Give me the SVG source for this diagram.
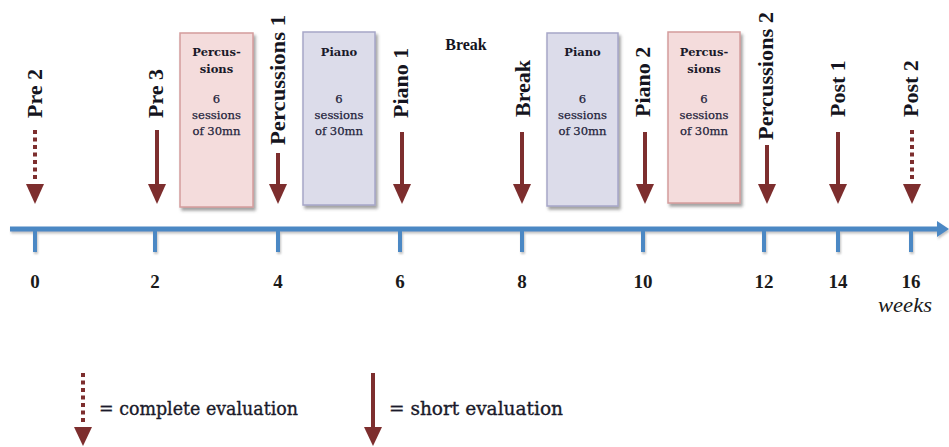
<svg xmlns="http://www.w3.org/2000/svg" width="949" height="447" viewBox="0 0 949 447">
<defs>
<filter id="sh" x="-20%" y="-20%" width="140%" height="140%">
<feDropShadow dx="2" dy="3" stdDeviation="1.6" flood-color="#555" flood-opacity="0.55"/>
</filter>
<filter id="sh2" x="-5%" y="-50%" width="110%" height="200%">
<feDropShadow dx="1" dy="2" stdDeviation="1.2" flood-color="#777" flood-opacity="0.45"/>
</filter>
</defs>
<style>
.lbl{font-family:"Liberation Serif",serif;font-weight:bold;font-size:22px;fill:#141420}
.num{font-family:"Liberation Serif",serif;font-weight:bold;font-size:19px;fill:#1a1a1a;text-anchor:middle}
.bt{font-family:"DejaVu Serif",serif;font-weight:bold;font-size:11.5px;fill:#1a1a2a;text-anchor:middle}
.bs{font-family:"DejaVu Serif",serif;font-size:11.6px;fill:#22223a;text-anchor:middle;stroke:#22223a;stroke-width:0.25}
.leg{font-family:"DejaVu Serif",serif;font-size:18px;fill:#1a1a2a;stroke:#1a1a2a;stroke-width:0.35}
.solid{stroke:#7d2e2e;stroke-width:4;fill:none}
.dot{stroke:#7d2e2e;stroke-width:4;fill:none;stroke-dasharray:4 3.5}
.head{fill:#7d2e2e}
.perc{fill:#f4dcdc;stroke:#d49c9c;stroke-width:1.5}
.pia{fill:#dcdcea;stroke:#a6a6c8;stroke-width:1.5}
.axis{stroke:#4c88c4;stroke-width:5;fill:none}
.tick{stroke:#4c88c4;stroke-width:4;fill:none}
</style>

<g id="timeline" filter="url(#sh2)">
<line class="axis" x1="10" y1="229" x2="939" y2="229"/>
<polygon points="937,221 949,229 937,237" fill="#4c88c4"/>
<line class="tick" x1="35" y1="229" x2="35" y2="252"/>
<line class="tick" x1="155" y1="229" x2="155" y2="252"/>
<line class="tick" x1="278" y1="229" x2="278" y2="252"/>
<line class="tick" x1="400" y1="229" x2="400" y2="252"/>
<line class="tick" x1="522" y1="229" x2="522" y2="252"/>
<line class="tick" x1="643" y1="229" x2="643" y2="252"/>
<line class="tick" x1="764" y1="229" x2="764" y2="252"/>
<line class="tick" x1="838" y1="229" x2="838" y2="252"/>
<line class="tick" x1="911" y1="229" x2="911" y2="252"/>
</g>
<g id="numbers">
<text class="num" x="35" y="288">0</text>
<text class="num" x="155" y="288">2</text>
<text class="num" x="278" y="288">4</text>
<text class="num" x="400" y="288">6</text>
<text class="num" x="522" y="288">8</text>
<text class="num" x="643" y="288">10</text>
<text class="num" x="764" y="288">12</text>
<text class="num" x="838" y="288">14</text>
<text class="num" x="911" y="288">16</text>
<text x="905" y="312" font-family="Liberation Serif, serif" font-style="italic" font-size="20" fill="#1a1a1a" text-anchor="middle" textLength="54" lengthAdjust="spacingAndGlyphs">weeks</text>
</g>

<g id="box-perc1">
<rect class="perc" x="180" y="33" width="73" height="174" filter="url(#sh)"/>
<text class="bt" x="216.5" y="56">Percus-</text>
<text class="bt" x="216.5" y="73">sions</text>
<text class="bs" x="216.5" y="103">6</text>
<text class="bs" x="216.5" y="119">sessions</text>
<text class="bs" x="216.5" y="135">of 30mn</text>
</g>
<g id="box-piano1">
<rect class="pia" x="303" y="32" width="72" height="173" filter="url(#sh)"/>
<text class="bt" x="339" y="56">Piano</text>
<text class="bs" x="339" y="103">6</text>
<text class="bs" x="339" y="119">sessions</text>
<text class="bs" x="339" y="135">of 30mn</text>
</g>
<g id="break-label">
<text x="466" y="49.5" font-family="Liberation Serif, serif" font-weight="bold" font-size="16" fill="#141420" text-anchor="middle">Break</text>
</g>
<g id="box-piano2">
<rect class="pia" x="547" y="33" width="71" height="173" filter="url(#sh)"/>
<text class="bt" x="582.5" y="56">Piano</text>
<text class="bs" x="582.5" y="103">6</text>
<text class="bs" x="582.5" y="119">sessions</text>
<text class="bs" x="582.5" y="135">of 30mn</text>
</g>
<g id="box-perc2">
<rect class="perc" x="668" y="32" width="72" height="171" filter="url(#sh)"/>
<text class="bt" x="704" y="56">Percus-</text>
<text class="bt" x="704" y="73">sions</text>
<text class="bs" x="704" y="103">6</text>
<text class="bs" x="704" y="119">sessions</text>
<text class="bs" x="704" y="135">of 30mn</text>
</g>

<g id="labels">
<text class="lbl" transform="translate(42,118) rotate(-90)">Pre 2</text>
<text class="lbl" transform="translate(163,118) rotate(-90)">Pre 3</text>
<text class="lbl" transform="translate(285,145) rotate(-90)" textLength="130" lengthAdjust="spacingAndGlyphs">Percussions 1</text>
<text class="lbl" transform="translate(408,118) rotate(-90)">Piano 1</text>
<text class="lbl" transform="translate(530,117) rotate(-90)">Break</text>
<text class="lbl" transform="translate(650,117) rotate(-90)">Piano 2</text>
<text class="lbl" transform="translate(773,140) rotate(-90)" textLength="128" lengthAdjust="spacingAndGlyphs">Percussions 2</text>
<text class="lbl" transform="translate(845,117) rotate(-90)">Post 1</text>
<text class="lbl" transform="translate(918,117) rotate(-90)">Post 2</text>
</g>

<g id="connectors">
<line class="dot" x1="35" y1="130" x2="35" y2="182"/>
<polygon class="head" points="26,184 44,184 35,204"/>
<line class="solid" x1="157" y1="130" x2="157" y2="186"/>
<polygon class="head" points="148,184 166,184 157,204"/>
<line class="solid" x1="278" y1="153" x2="278" y2="186"/>
<polygon class="head" points="269,184 287,184 278,204"/>
<line class="solid" x1="402" y1="132" x2="402" y2="186"/>
<polygon class="head" points="393,184 411,184 402,204"/>
<line class="solid" x1="522" y1="132" x2="522" y2="186"/>
<polygon class="head" points="513,184 531,184 522,204"/>
<line class="solid" x1="645" y1="132" x2="645" y2="186"/>
<polygon class="head" points="636,184 654,184 645,204"/>
<line class="solid" x1="767" y1="145" x2="767" y2="186"/>
<polygon class="head" points="758,184 776,184 767,204"/>
<line class="solid" x1="838" y1="132" x2="838" y2="186"/>
<polygon class="head" points="829,184 847,184 838,204"/>
<line class="dot" x1="912" y1="130" x2="912" y2="182"/>
<polygon class="head" points="903,184 921,184 912,204"/>
</g>

<g id="legend">
<line class="dot" x1="83" y1="373" x2="83" y2="424"/>
<polygon class="head" points="74,427 92,427 83,446"/>
<text class="leg" x="99" y="415" textLength="199" lengthAdjust="spacingAndGlyphs">= complete evaluation</text>
<line class="solid" x1="373" y1="373" x2="373" y2="429"/>
<polygon class="head" points="364,427 382,427 373,446"/>
<text class="leg" x="389" y="415" textLength="174" lengthAdjust="spacingAndGlyphs">= short evaluation</text>
</g>
</svg>
